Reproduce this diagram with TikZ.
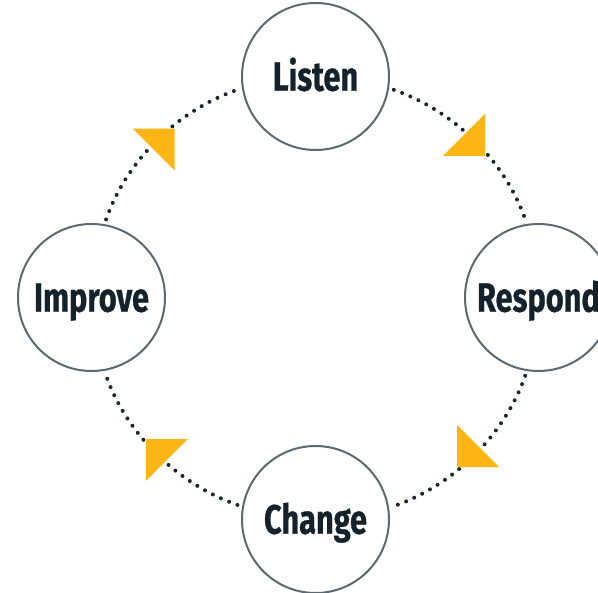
\documentclass[tikz,border=0pt]{standalone}
\usepackage{fontspec}
\setmainfont[FakeStretch=0.75, BoldFeatures={FakeBold=0.6}]{Fira Sans}
\usepackage{xcolor}
\usepackage{tikz}

\definecolor{stageink}{HTML}{15222C}
\definecolor{stageline}{HTML}{5E6870}
\definecolor{dotink}{HTML}{1B2631}
\definecolor{tipyellow}{HTML}{FDB515}

\tikzset{
  stage/.style={circle, draw=stageline, line width=2pt, fill=white,
    minimum size=147pt, inner sep=0pt, text=stageink,
    font=\fontsize{41}{41}\selectfont\bfseries,
    text height=28.4pt, text depth=0pt},
  flowdots/.style={dotink, line width=4pt, line cap=round,
    dash pattern=on 0pt off 8.9pt, shorten <=5pt, shorten >=5pt,
    looseness=0.9},
  flowtip/.pic={\fill[tipyellow] (19.8,0) -- (-9.9,29.7) -- (-9.9,-29.7) -- cycle;}
}

\begin{document}
\begin{tikzpicture}[x=1pt, y=1pt]
  \useasboundingbox (-315.5,-295.5) rectangle (282.5,297.5);

  % Stages
  \node[stage] (listen)  at (90:221)  {Listen};
  \node[stage] (respond) at (0:223)   {Respond};
  \node[stage] (change)  at (-90:222) {Change};
  \node[stage] (improve) at (180:224) {Improve};

  % Dotted loop
  \draw[flowdots] (improve.80.3) to[out=70.7, in=199.3] (listen.189.7);
  \draw[flowdots] (listen.-9.7) to[out=-19.3, in=109.3] (respond.99.7);
  \draw[flowdots] (respond.-99.7) to[out=-109.3, in=19.3] (change.9.7);
  \draw[flowdots] (change.170.3) to[out=160.7, in=-70.7] (improve.-80.3);

  % Direction marks
  \pic[rotate=45]   at (135:219) {flowtip};
  \pic[rotate=-45]  at (45:220)  {flowtip};
  \pic[rotate=-135] at (-45:220) {flowtip};
  \pic[rotate=135]  at (-135:220) {flowtip};
\end{tikzpicture}
\end{document}
